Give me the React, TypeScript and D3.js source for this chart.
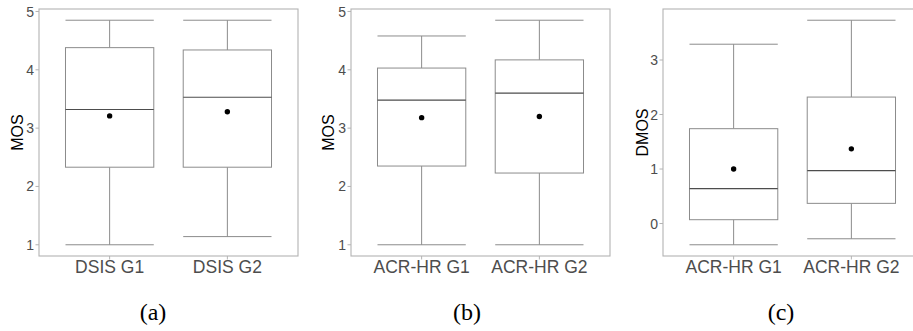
import React, { useEffect, useRef } from "react";
import * as d3 from "d3";

// panel (a)
const catsA = ["DSIS G1", "DSIS G2"];
const lowA = [1.0, 1.14];
const q1A = [2.33, 2.33];
const medA = [3.32, 3.53];
const q3A = [4.38, 4.34];
const highA = [4.85, 4.85];
const meanA = [3.21, 3.28];

// panel (b)
const catsB = ["ACR-HR G1", "ACR-HR G2"];
const lowB = [1.0, 1.0];
const q1B = [2.35, 2.23];
const medB = [3.48, 3.6];
const q3B = [4.03, 4.17];
const highB = [4.58, 4.85];
const meanB = [3.18, 3.2];

// panel (c)
const catsC = ["ACR-HR G1", "ACR-HR G2"];
const lowC = [-0.39, -0.28];
const q1C = [0.07, 0.37];
const medC = [0.64, 0.97];
const q3C = [1.74, 2.32];
const highC = [3.29, 3.73];
const meanC = [1.0, 1.37];

const ticksAB = [1, 2, 3, 4, 5];
const ticksC = [0, 1, 2, 3];
const captions = ["(a)", "(b)", "(c)"];

const W = 913, H = 331;
const SANS = "Arial, 'Liberation Sans', sans-serif";

export default function App() {
  const ref = useRef(null);

  useEffect(() => {
    const svg = d3.select(ref.current);
    svg.selectAll("*").remove();

    const panels = [
      { left: 39, cats: catsA, low: lowA, q1: q1A, med: medA, q3: q3A, high: highA, mean: meanA, ticks: ticksAB, title: "MOS", titleX: 17 },
      { left: 351, cats: catsB, low: lowB, q1: q1B, med: medB, q3: q3B, high: highB, mean: meanB, ticks: ticksAB, title: "MOS", titleX: 328 },
      { left: 663, cats: catsC, low: lowC, q1: q1C, med: medC, q3: q3C, high: highC, mean: meanC, ticks: ticksC, title: "DMOS", titleX: 642 },
    ];
    const top = 9, bottom = 256, pw = 259;

    panels.forEach((p, pi) => {
      const lo = d3.min(p.low), hi = d3.max(p.high);
      const pad = (hi - lo) * 0.05;
      const y = d3.scaleLinear().domain([lo - pad, hi + pad]).range([bottom, top]);
      const x = d3.scaleLinear().domain([0.4, p.cats.length + 0.6]).range([p.left, p.left + pw]);
      const bw = x(0.75) - x(0);

      const g = svg.append("g");

      // panel border (the last panel runs off the right edge)
      g.append("rect")
        .attr("x", p.left).attr("y", top)
        .attr("width", pw).attr("height", bottom - top)
        .attr("fill", "white").attr("stroke", "#b3b3b3").attr("stroke-width", 1.1);

      // y ticks
      p.ticks.forEach((t) => {
        g.append("line")
          .attr("x1", p.left - 3.5).attr("x2", p.left)
          .attr("y1", y(t)).attr("y2", y(t))
          .attr("stroke", "#b3b3b3").attr("stroke-width", 1);
        g.append("text")
          .attr("x", p.left - 5).attr("y", y(t))
          .attr("dy", "0.36em").attr("text-anchor", "end")
          .attr("font-family", SANS)
          .attr("font-size", 14).attr("fill", "#4d4d4d")
          .text(t);
      });

      // y title
      g.append("text")
        .attr("transform", `translate(${p.titleX},${(top + bottom) / 2}) rotate(-90)`)
        .attr("text-anchor", "middle").attr("dy", "0.36em")
        .attr("font-family", SANS)
        .attr("font-size", 16).attr("fill", "black")
        .text(p.title);

      p.cats.forEach((c, i) => {
        const cx = x(i + 1);
        // x tick + label
        g.append("line")
          .attr("x1", cx).attr("x2", cx).attr("y1", bottom).attr("y2", bottom + 3.5)
          .attr("stroke", "#b3b3b3");
        g.append("text")
          .attr("x", cx).attr("y", 273)
          .attr("text-anchor", "middle")
          .attr("font-family", SANS)
          .attr("font-size", 17.5).attr("fill", "#4d4d4d")
          .text(c);

        const stroke = "#8c8c8c";
        // whiskers
        g.append("line").attr("x1", cx).attr("x2", cx).attr("y1", y(p.high[i])).attr("y2", y(p.q3[i])).attr("stroke", stroke);
        g.append("line").attr("x1", cx).attr("x2", cx).attr("y1", y(p.q1[i])).attr("y2", y(p.low[i])).attr("stroke", stroke);
        // caps
        [p.high[i], p.low[i]].forEach((v) => {
          g.append("line")
            .attr("x1", cx - bw / 2).attr("x2", cx + bw / 2)
            .attr("y1", y(v)).attr("y2", y(v))
            .attr("stroke", stroke);
        });
        // box
        g.append("rect")
          .attr("x", cx - bw / 2).attr("y", y(p.q3[i]))
          .attr("width", bw).attr("height", y(p.q1[i]) - y(p.q3[i]))
          .attr("fill", "white").attr("stroke", stroke);
        // median
        g.append("line")
          .attr("x1", cx - bw / 2).attr("x2", cx + bw / 2)
          .attr("y1", y(p.med[i])).attr("y2", y(p.med[i]))
          .attr("stroke", "#4d4d4d").attr("stroke-width", 1.1);
        // mean
        g.append("circle")
          .attr("cx", cx).attr("cy", y(p.mean[i])).attr("r", 2.7)
          .attr("fill", "black");
      });

      // caption
      svg.append("text")
        .attr("x", [153, 467, 781][pi]).attr("y", 320)
        .attr("text-anchor", "middle")
        .attr("font-family", "'Liberation Serif', 'Times New Roman', serif")
        .attr("font-size", 24).attr("fill", "black")
        .text(captions[pi]);
    });
  }, []);

  return (
    <svg
      ref={ref}
      width={W}
      height={H}
      style={{ position: "absolute", left: 0, top: 0, display: "block", background: "white" }}
    />
  );
}
